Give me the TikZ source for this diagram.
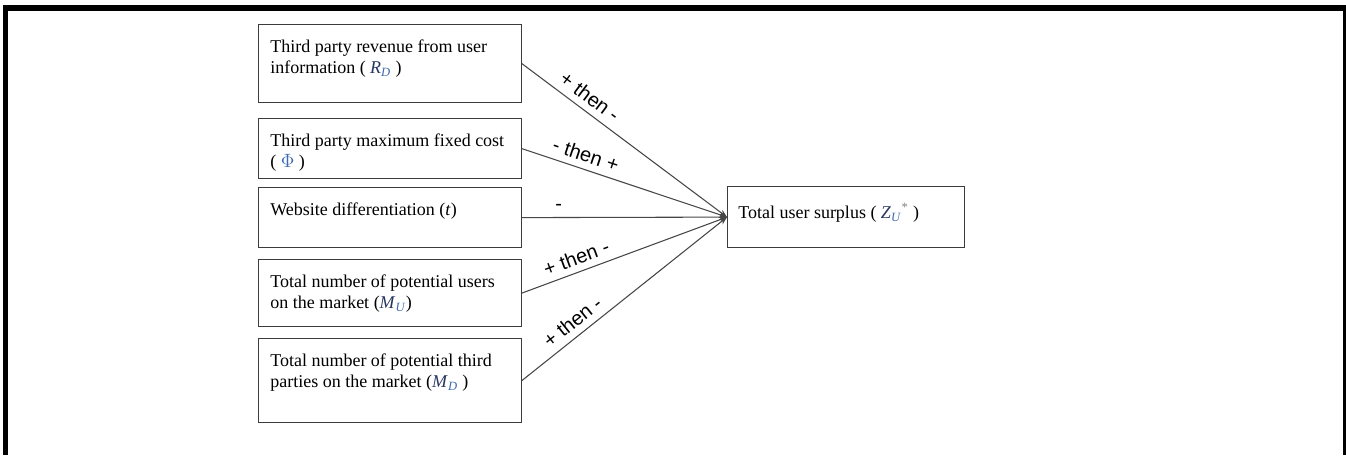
\documentclass[tikz,border=0pt]{standalone}
\usepackage{fontspec}
\setmainfont{Liberation Serif}
\setsansfont{Liberation Sans}
\usepackage{xcolor}
\usetikzlibrary{arrows.meta}
\definecolor{boxGray}{RGB}{60,60,60}
\definecolor{lineGray}{RGB}{70,70,70}
\definecolor{eqDark}{RGB}{40,55,95}
\definecolor{eqBlue}{RGB}{60,105,175}
\newcommand{\eqsym}[2]{{\color{eqDark}\textit{#1}}\textsubscript{\color{eqBlue}\textit{#2}}}

\begin{document}
\begin{tikzpicture}[x=0.75pt,y=-0.75pt,
    factor/.style={draw=boxGray, line width=0.9pt, anchor=north west, inner sep=0pt, minimum width=197pt},
    boxtext/.style={anchor=north west, inner sep=0pt, align=left, font=\fontsize{13.5}{15.75}\selectfont},
    effect/.style={-{Stealth[length=6pt,width=4.5pt]}, draw=lineGray, line width=0.8pt},
    sign/.style={sloped, above, pos=0.29, inner sep=5pt, font=\sffamily\fontsize{15}{17}\selectfont, text=black}]
    \useasboundingbox (0,0) rectangle (1346,455);
    % frame
    \fill (3,5) rectangle (1346,11);
    \fill (3,5) rectangle (8,455);
    \fill (1343,5) rectangle (1346,455);

    % factors
    \node[factor, minimum height=58.5pt] (rd) at (258,24) {};
    \node[boxtext] (rdtext) at ([shift={(12,16)}]rd.north west) {Third party revenue from user\\information ( \eqsym{R}{D} )};

    \node[factor, minimum height=45pt] (phi) at (258,118) {};
    \node[boxtext] (phitext) at ([shift={(12,16)}]phi.north west) {Third party maximum fixed cost\\( {\color{eqBlue}$\Phi$} )};

    \node[factor, minimum height=45pt] (t) at (258,187) {};
    \node[boxtext] (ttext) at ([shift={(12,16)}]t.north west) {Website differentiation (\textit{t})};

    \node[factor, minimum height=50.25pt] (mu) at (258,259) {};
    \node[boxtext] (mutext) at ([shift={(12,16)}]mu.north west) {Total number of potential users\\on the market (\eqsym{M}{U})};

    \node[factor, minimum height=63pt] (md) at (258,338) {};
    \node[boxtext] (mdtext) at ([shift={(12,16)}]md.north west) {Total number of potential third\\parties on the market (\eqsym{M}{D} )};

    % outcome
    \node[factor, minimum width=177.75pt, minimum height=45.75pt] (zu) at (727,186) {};
    \node[boxtext] (zutext) at ([shift={(11,17)}]zu.north west) {Total user surplus ( \eqsym{Z}{U}\textsuperscript{\color{gray}*} )};

    % effects
    \draw[effect] (rd.east) -- node[sign] {+ then -} (zu.west);
    \draw[effect] (phi.east) -- node[sign] {- then +} (zu.west);
    \draw[effect] (t.east) -- node[sign, pos=0.18] {-} (zu.west);
    \draw[effect] (mu.east) -- node[sign] {+ then -} (zu.west);
    \draw[effect] (md.east) -- node[sign] {+ then -} (zu.west);
\end{tikzpicture}
\end{document}
